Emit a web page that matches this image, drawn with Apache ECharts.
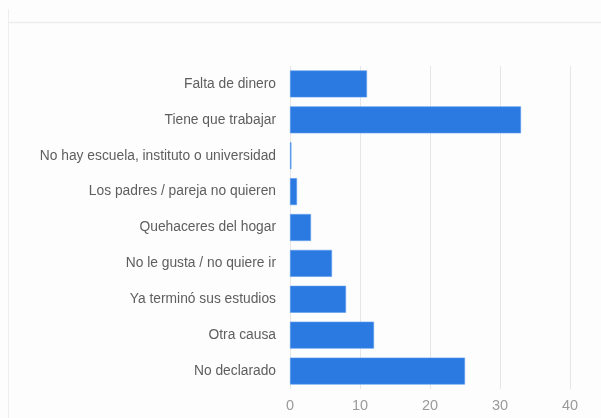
<!DOCTYPE html>
<html>
<head>
<meta charset="utf-8">
<script src="https://cdn.jsdelivr.net/npm/echarts@6/dist/echarts.min.js"></script>
<style>
  html, body { margin: 0; padding: 0; background: #fdfdfd; }
  #chart { width: 601px; height: 418px; }
</style>
</head>
<body>
<div id="chart"></div>
<script>
// Reasons for not attending school (counts)
const categories = [
  'Falta de dinero',
  'Tiene que trabajar',
  'No hay escuela, instituto o universidad',
  'Los padres / pareja no quieren',
  'Quehaceres del hogar',
  'No le gusta / no quiere ir',
  'Ya terminó sus estudios',
  'Otra causa',
  'No declarado'
];
const values = [11, 33, 0.2, 1, 3, 6, 8, 12, 25];
const xTicks = [0, 10, 20, 30, 40];

const chart = echarts.init(document.getElementById('chart'), null, { renderer: 'canvas' });
chart.setOption({
  backgroundColor: '#fdfdfd',
  animation: false,
  graphic: [
    { type: 'line', shape: { x1: 8.5, y1: 9, x2: 8.5, y2: 418 }, style: { stroke: '#eeeeee', lineWidth: 1 } },
    { type: 'line', shape: { x1: 8, y1: 22.5, x2: 601, y2: 22.5 }, style: { stroke: '#eeeeee', lineWidth: 1.5 } }
  ],
  grid: { left: 290, right: 31, top: 66, bottom: 29, containLabel: false },
  xAxis: {
    type: 'value',
    min: xTicks[0],
    max: xTicks[xTicks.length - 1],
    interval: 10,
    axisLine: { show: false },
    axisTick: { show: false },
    splitLine: { show: true, lineStyle: { color: '#e6e6e6', width: 1 } },
    axisLabel: {
      color: '#9a9a9a',
      fontFamily: 'Liberation Sans, Arial, sans-serif',
      fontSize: 14.5,
      margin: 9
    }
  },
  yAxis: {
    type: 'category',
    data: categories,
    inverse: true,
    axisLine: { show: false },
    axisTick: { show: false },
    axisLabel: {
      color: '#5e5e5e',
      fontFamily: 'Liberation Sans, Arial, sans-serif',
      fontSize: 13.8,
      margin: 14
    }
  },
  series: [{
    type: 'bar',
    data: values,
    barCategoryGap: '25%',
    itemStyle: { color: '#2a7ae2', borderColor: '#5b9bef', borderWidth: 0.6 }
  }]
});
</script>
</body>
</html>
